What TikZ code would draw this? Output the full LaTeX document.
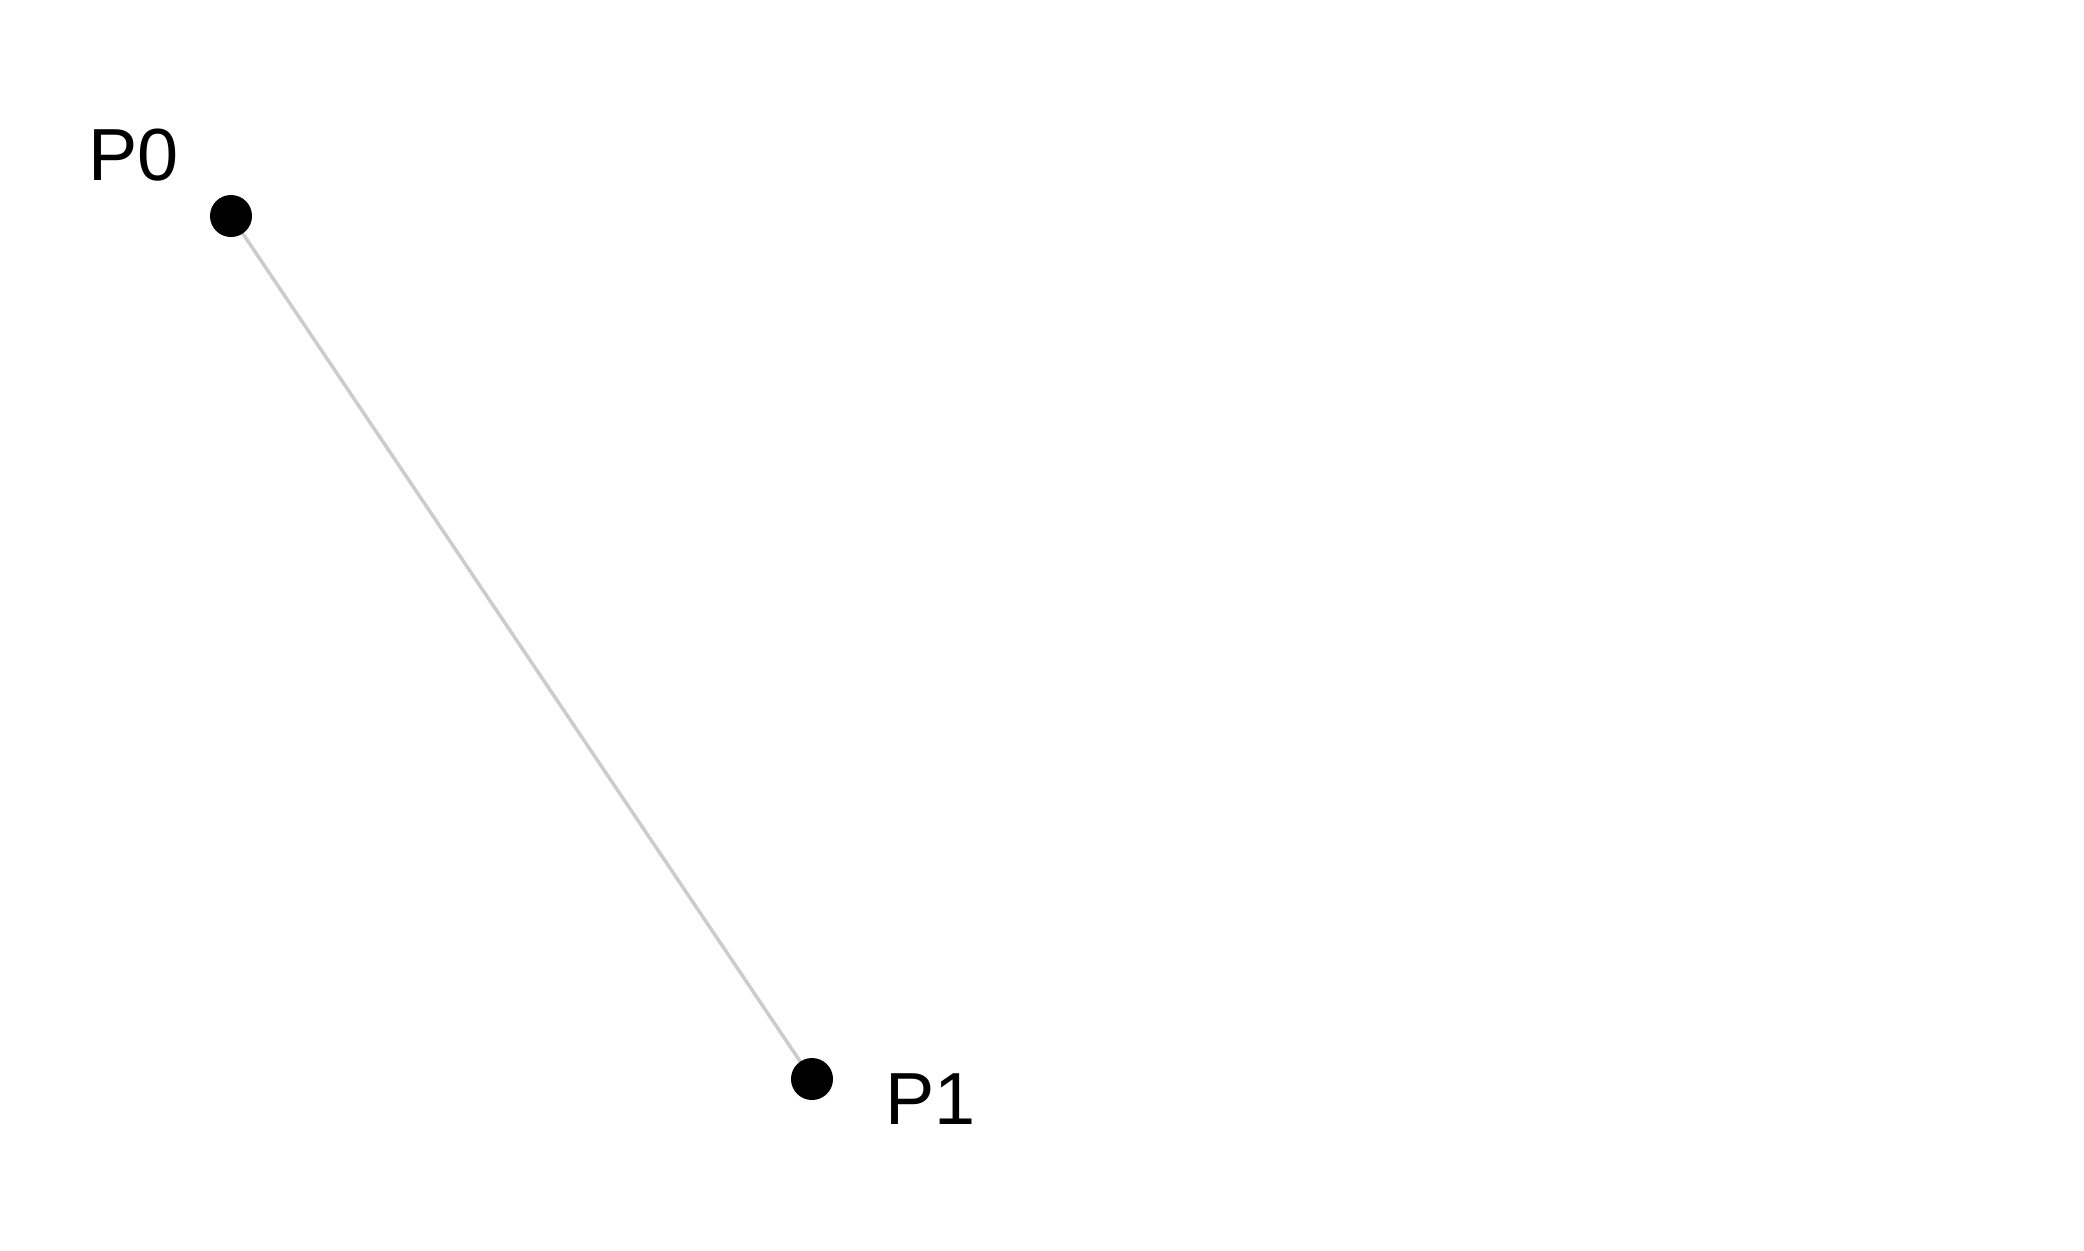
\documentclass[tikz,border=0pt]{standalone}
\usepackage{fontspec}
\setmainfont{Liberation Sans}
\definecolor{EdgeGray}{HTML}{CCCCCC}
\usetikzlibrary{positioning}
\tikzset{
  ctrlpoint/.style={
    circle,
    fill=black,
    inner sep=0pt,
    minimum size=4.2mm
  },
  ptlabel/.style={
    inner sep=0pt,
    font=\fontsize{21}{25}\selectfont,
    anchor=base west
  },
  polyline/.style={
    draw=EdgeGray,
    line width=1pt
  }
}
\begin{document}
\begin{tikzpicture}[x=0.01cm,y=-0.01cm]
\useasboundingbox (0,0) rectangle (2084,1250);
\coordinate (c0) at (231,216);
\coordinate (c1) at (812,1079);
\draw[polyline] (c0) -- (c1);
\node[ctrlpoint] (p0) at (c0) {};
\node[ctrlpoint] (p1) at (c1) {};
\node[ptlabel] (l0) at (88,180) {P0};
\node[ptlabel] (l1) at (885,1124) {P1};
\end{tikzpicture}
\end{document}
